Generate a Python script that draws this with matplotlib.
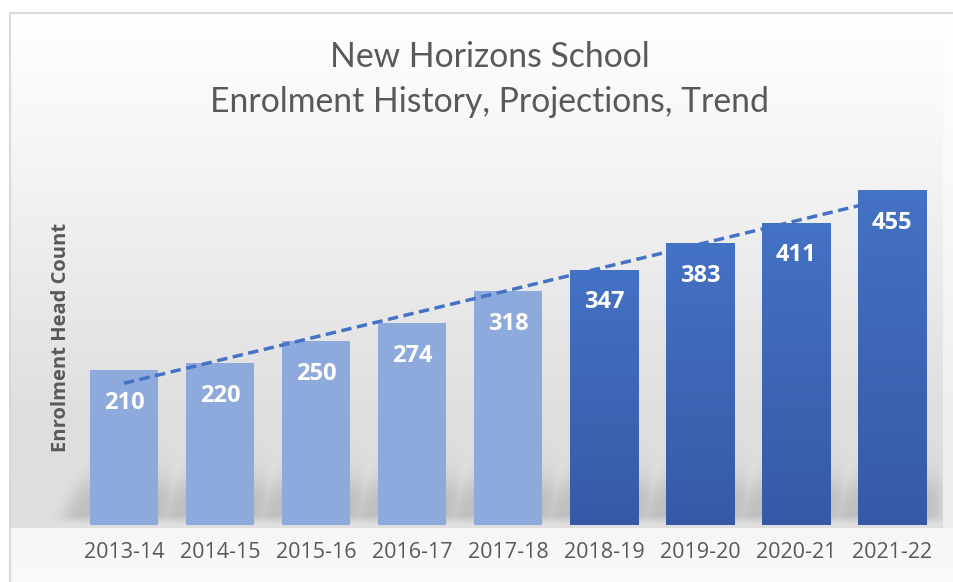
import matplotlib.pyplot as plt
import numpy as np
from matplotlib.colors import LinearSegmentedColormap

# Enrolment values
seasons = ['2013-14', '2014-15', '2015-16', '2016-17', '2017-18',
           '2018-19', '2019-20', '2020-21', '2021-22']
history = [210, 220, 250, 274, 318]
projection = [347, 383, 411, 455]

light_blue = '#8EA9DB'
dark_top = '#4472C4'
dark_bottom = '#3659A6'
text_grey = '#595959'

W, H = 954, 582
fig = plt.figure(figsize=(W / 100, H / 100), dpi=100)
fig.patch.set_facecolor('white')

# background axes (whole figure, pixel coordinates, y down)
bg = fig.add_axes([0, 0, 1, 1])
bg.set_xlim(0, W)
bg.set_ylim(H, 0)
bg.axis('off')

# main plot axes
ax = fig.add_axes([76 / W, 1 - 525 / H, 864 / W, 368 / H])
ax.patch.set_alpha(0)
ax.set_xlim(-0.5, len(seasons) - 0.5)
ax.set_ylim(0, 500)

x_hist = np.arange(len(history))
x_proj = np.arange(len(history), len(seasons))
bar_w = 0.71

hist_bars = ax.bar(x_hist, history, width=bar_w, color=light_blue, zorder=2)
proj_bars = ax.bar(x_proj, projection, width=bar_w, color=dark_top, zorder=4)

# vertical gradient on the projection bars
cmap = LinearSegmentedColormap.from_list('proj', [dark_bottom, dark_top])
grad = np.linspace(0, 1, 256).reshape(-1, 1)
for b in proj_bars:
    x0, h = b.get_x(), b.get_height()
    im = ax.imshow(grad, extent=[x0, x0 + b.get_width(), 0, h], origin='lower',
                   aspect='auto', cmap=cmap, zorder=4)
    im.set_clip_path(b)
ax.set_xlim(-0.5, len(seasons) - 0.5)
ax.set_ylim(0, 500)

# linear trend over all seasons (drawn between the two bar series)
values = history + projection
xs = np.arange(len(values))
slope, icpt = np.polyfit(xs, values, 1)
ax.plot(xs[[0, -1]], slope * xs[[0, -1]] + icpt, color=dark_top, lw=2.5,
        dashes=(3, 1.6), zorder=3)

# value labels
for i, v in enumerate(values):
    ax.annotate(str(v), (i, v), xytext=(0, -23.5), textcoords='offset points',
                ha='center', va='center', color='white', fontsize=17,
                fontweight='bold', family='Open Sans', zorder=6)

ax.set_xticks(xs)
ax.set_xticklabels(seasons, family='Open Sans', fontsize=15.5, color=text_grey)
ax.tick_params(axis='x', length=0, pad=12)
ax.set_yticks([])
for s in ax.spines.values():
    s.set_visible(False)

ax.set_ylabel('Enrolment Head Count', family='Open Sans', fontsize=14.5,
              fontweight='bold', color=text_grey)
ax.yaxis.set_label_coords(-0.006, 0.51)

fig.text(490 / W, 1 - 57 / H, 'New Horizons School', ha='center', va='center',
         family='Lato', fontsize=24.3, color=text_grey)
fig.text(490 / W, 1 - 102 / H, 'Enrolment History, Projections, Trend',
         ha='center', va='center', family='Lato', fontsize=24.3, color=text_grey)

# ---- background shading and bar shadows (pixel space) ----
fig.canvas.draw()
yy, xx = np.mgrid[0:H, 0:W].astype(float)
g = np.interp(yy, [13, 130, 260, 420, 528], [255, 247, 236, 222, 224])
plot_right, plot_bottom = 943, 528
img = g.copy()
img[yy >= plot_bottom] = np.interp(yy[yy >= plot_bottom], [528, 582], [246, 250])
side = (xx >= plot_right) & (yy < plot_bottom)
img[side] = 255 - (255 - g[side]) * 0.5


def sig(z):
    return 1 / (1 + np.exp(-z))


dark = np.zeros_like(img)
for b in list(hist_bars) + list(proj_bars):
    (l, base), (r, _) = ax.transData.transform([[b.get_x(), 0],
                                               [b.get_x() + b.get_width(), 0]])
    base = H - base
    t = base - yy
    left = l - 30 + 0.45 * t
    right = r + 14
    hx = sig((xx - left) / 5) * sig((right - xx) / 4)
    vy = np.clip((t - 1) / 9, 0, 1) * np.exp(-(np.clip(t - 22, 0, None) / 30) ** 2)
    dark = np.maximum(dark, hx * vy)
inside = (yy < plot_bottom) & (xx < plot_right) & (xx > 10)
img = np.where(inside, img - 32 * dark, img)
img[(yy < 13) | (xx < 10)] = 255

rgb = np.repeat((img / 255)[:, :, None], 3, axis=2)
bg.imshow(rgb, extent=(0, W, H, 0), aspect='auto', zorder=0)
bg.plot([10, 10, W + 5], [H + 5, 13, 13], color='#D9D9D9', lw=1.5, zorder=1)
bg.set_xlim(0, W)
bg.set_ylim(H, 0)

fig.savefig('out.png', dpi=100)
